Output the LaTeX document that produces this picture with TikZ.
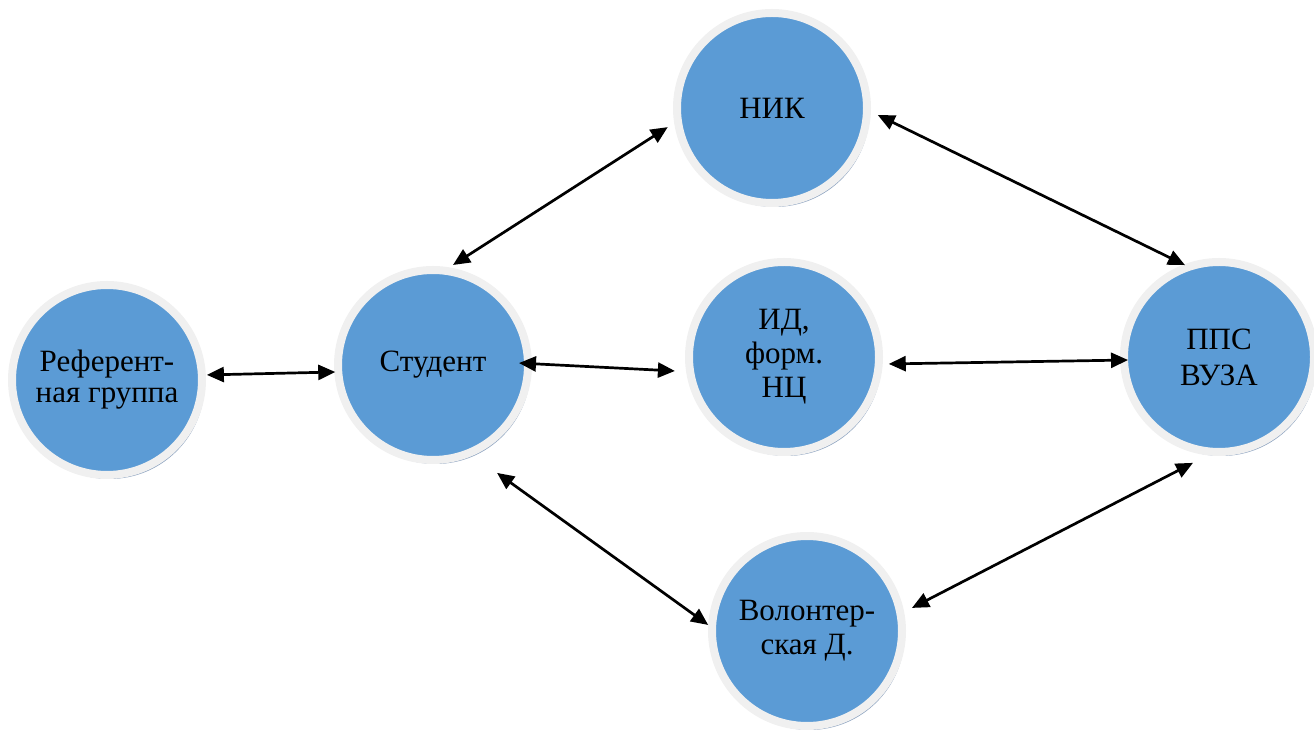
\documentclass[tikz,border=0pt]{standalone}
\usepackage{fontspec}
\setmainfont{Liberation Serif}
\usetikzlibrary{arrows.meta,calc,shadows}
\definecolor{bluefill}{HTML}{5B9BD5}
\definecolor{ringc}{HTML}{F0F0F0}
\definecolor{shadowc}{HTML}{8DA3C0}
\tikzset{
  bubble/.style={circle, inner sep=0pt, minimum size=190pt, fill=bluefill, draw=ringc, line width=8pt,
    drop shadow={shadow xshift=2.5pt, shadow yshift=-4pt, fill=shadowc, opacity=1},
    align=center, font=\fontsize{31}{34}\selectfont, text=black},
  arr/.style={{Triangle[length=17pt,width=15pt]}-{Triangle[length=17pt,width=15pt]}, line width=2.7pt, black}
}
\begin{document}
\begin{tikzpicture}[x=1pt,y=1pt]
\useasboundingbox (0,0) rectangle (1314,733);
\node[bubble, font=\fontsize{31}{31}\selectfont] (ref) at (107,353) {Референт-\\ная группа};
\node[bubble] (stud) at (433,368) {Студент};
\node[bubble] (nik) at (772,625) {НИК};
\node[bubble] (id) at (784,376) {ИД,\\форм.\\НЦ};
\node[bubble, font=\fontsize{31}{36}\selectfont] (pps) at (1219,376) {ППС\\ВУЗА};
\node[bubble] (vol) at (807,102) {Волонтер-\\ская Д.};
\draw[arr] ($(ref)+(2.9:100)$) -- ($(stud)+(184.1:98)$);
\draw[arr] ($(stud)+(78.7:102)$) -- ($(nik)+(190.4:106)$);
\draw[arr] ($(nik)+(-3.8:106)$) -- ($(pps)+(110.3:98)$);
\draw[arr] ($(stud)+(1.3:86)$) -- ($(id)+(187.3:110)$);
\draw[arr] ($(id)+(-3.8:105)$) -- ($(pps)+(181.9:91)$);
\draw[arr] ($(stud)+(-59.3:125.5)$) -- ($(vol)+(176.5:99)$);
\draw[arr] ($(vol)+(12.4:107.5)$) -- ($(pps)+(-103.8:109)$);
\end{tikzpicture}
\end{document}
